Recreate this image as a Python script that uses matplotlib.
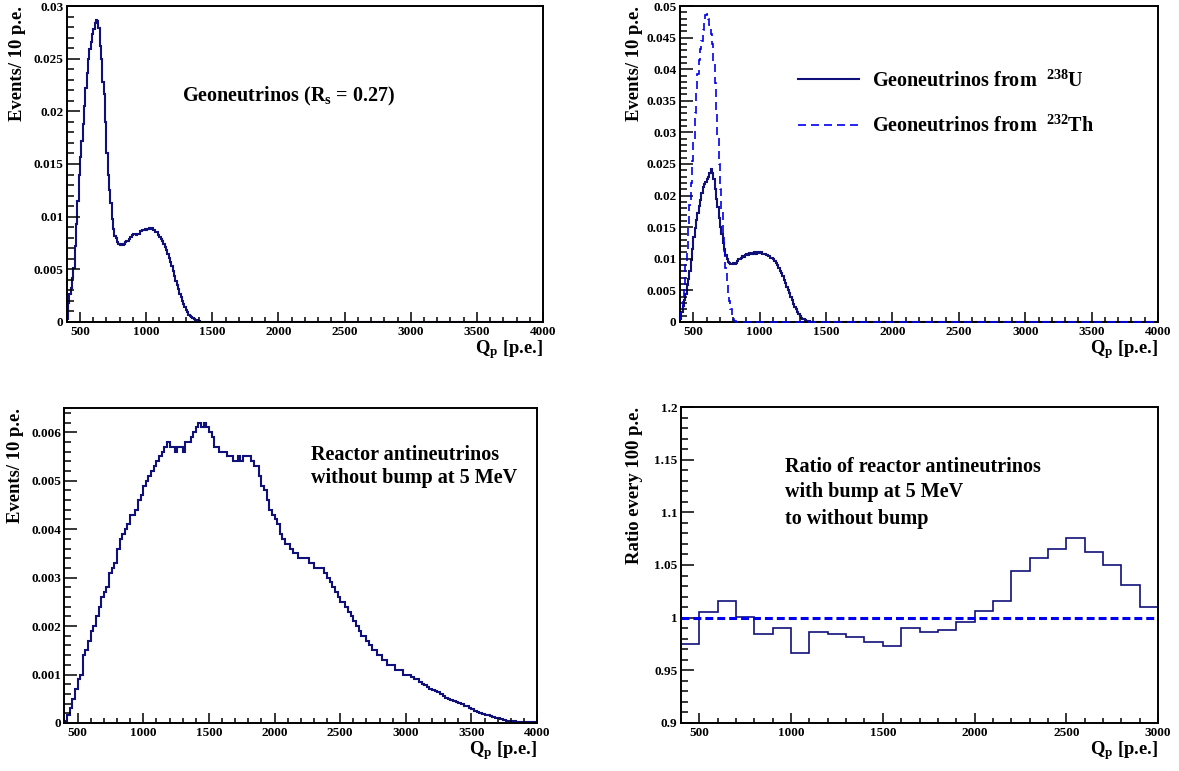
"""
Four ROOT-style panels: geoneutrino and reactor antineutrino Q_p spectra,
plus the ratio of reactor spectra with / without the 5 MeV bump.
"""

import numpy as np
import matplotlib
matplotlib.use("Agg")
import matplotlib.pyplot as plt
from matplotlib.ticker import MultipleLocator, FuncFormatter

Q_MIN = 400
Q_MAX = 4000
RATIO_Q_MAX = 3000

GEO_BIN = 10       # p.e. per bin, geoneutrino spectra
REACTOR_BIN = 20
RATIO_BIN = 100    # p.e. per bin, ratio plot

# Events / 10 p.e., bins from 400 p.e. upwards; everything above is empty
GEO_TOTAL = [
    0.0003, 0.0018, 0.0027, 0.0032, 0.0042, 0.0051, 0.0072, 0.0093, 0.0115, 0.0140,
    0.0157, 0.0172, 0.0188, 0.0205, 0.0222, 0.0236, 0.0250, 0.0259, 0.0266, 0.0273,
    0.0278, 0.0284, 0.0287, 0.0286, 0.0279, 0.0262, 0.0250, 0.0228, 0.0216, 0.0190,
    0.0160, 0.0140, 0.0125, 0.0113, 0.0098, 0.0088, 0.0082, 0.0080, 0.0076, 0.0074,
    0.0073, 0.0074, 0.0073, 0.0074, 0.0076, 0.0077, 0.0077, 0.0079, 0.0081, 0.0083,
    0.0084, 0.0084, 0.0083, 0.0084, 0.0084, 0.0086, 0.0086, 0.0087, 0.0087, 0.0088,
    0.0087, 0.0088, 0.0089, 0.0088, 0.0089, 0.0087, 0.0087, 0.0085, 0.0085, 0.0083,
    0.0081, 0.0079, 0.0077, 0.0074, 0.0071, 0.0068, 0.0065, 0.0061, 0.0057, 0.0053,
    0.0048, 0.0044, 0.0039, 0.0035, 0.0031, 0.0027, 0.0024, 0.0020, 0.0017, 0.0014,
    0.0011, 0.0009, 0.0007, 0.0006, 0.0005, 0.0004, 0.0003, 0.0002, 0.00015, 0.0001,
    0.00005,
]

GEO_U = [
    0.0004, 0.0015, 0.0026, 0.0035, 0.0045, 0.0058, 0.0068, 0.0080, 0.0098, 0.0115,
    0.0135, 0.0148, 0.0162, 0.0172, 0.0183, 0.0193, 0.0204, 0.0213, 0.0218, 0.0222,
    0.0226, 0.0230, 0.0235, 0.0242, 0.0236, 0.0226, 0.0210, 0.0195, 0.0182, 0.0165,
    0.0150, 0.0140, 0.0125, 0.0115, 0.0106, 0.0099, 0.0095, 0.0093, 0.0092, 0.0092,
    0.0093, 0.0092, 0.0094, 0.0096, 0.0099, 0.0100, 0.0102, 0.0104, 0.0103, 0.0106,
    0.0108, 0.0106, 0.0109, 0.0107, 0.0109, 0.0108, 0.0110, 0.0108, 0.0109, 0.0110,
    0.0109, 0.0110, 0.0108, 0.0107, 0.0107, 0.0106, 0.0104, 0.0104, 0.0102, 0.0101,
    0.0099, 0.0096, 0.0093, 0.0090, 0.0086, 0.0081, 0.0077, 0.0072, 0.0067, 0.0062,
    0.0056, 0.0051, 0.0046, 0.0040, 0.0034, 0.0029, 0.0024, 0.0020, 0.0016, 0.0012,
    0.0009, 0.0007, 0.0005, 0.0004, 0.0003, 0.0002, 0.00015, 0.0001, 0.00005, 0.00003,
]

GEO_TH = [
    0.0005, 0.0020, 0.0040, 0.0060, 0.0090, 0.0115, 0.0150, 0.0185, 0.0220, 0.0255,
    0.0290, 0.0330, 0.0362, 0.0392, 0.0415, 0.0432, 0.0445, 0.0462, 0.0478, 0.0485,
    0.0487, 0.0480, 0.0470, 0.0455, 0.0440, 0.0410, 0.0378, 0.0330, 0.0295, 0.0250,
    0.0210, 0.0175, 0.0140, 0.0112, 0.0085, 0.0065, 0.0045, 0.0033, 0.0020, 0.0010,
    0.0004, 0.0001,
]

# Events / 10 p.e., reactor antineutrinos without bump, 20 p.e. steps from 400
REACTOR = [
    0.00005, 0.00017, 0.0003, 0.0005, 0.0007, 0.0009, 0.0010, 0.0014, 0.0015, 0.0017,
    0.0019, 0.0020, 0.0022, 0.0024, 0.0026, 0.0027, 0.0028, 0.0031, 0.0032, 0.0033,
    0.0036, 0.0038, 0.0039, 0.0040, 0.0041, 0.0043, 0.0043, 0.0044, 0.0046, 0.0047,
    0.0049, 0.0050, 0.0051, 0.0052, 0.0053, 0.0054, 0.0055, 0.0056, 0.0057, 0.0058,
    0.0057, 0.0057, 0.0056, 0.0057, 0.0057, 0.0056, 0.0058, 0.0058, 0.0059, 0.0060,
    0.0061, 0.0062, 0.0061, 0.0062, 0.0061, 0.0060, 0.0059, 0.0057, 0.0057, 0.0056,
    0.0056, 0.0056, 0.0055, 0.0055, 0.0054, 0.0054, 0.0055, 0.0054, 0.0055, 0.0055,
    0.0055, 0.0054, 0.0053, 0.0053, 0.0051, 0.0049, 0.0048, 0.0046, 0.0044, 0.0043,
    0.0042, 0.0041, 0.0039, 0.0038, 0.0037, 0.0037, 0.0036, 0.0035, 0.0035, 0.0034,
    0.0034, 0.0034, 0.0034, 0.0033, 0.0033, 0.0032, 0.0032, 0.0032, 0.0032, 0.0031,
    0.0030, 0.0029, 0.0028, 0.0027, 0.0026, 0.0025, 0.0025, 0.0024, 0.0023, 0.0022,
    0.0021, 0.0020, 0.0019, 0.0018, 0.0018, 0.0017, 0.0016, 0.0015, 0.0015, 0.0014,
    0.0014, 0.0013, 0.0013, 0.0012, 0.0012, 0.0012, 0.0011, 0.0011, 0.0011, 0.0010,
    0.0010, 0.0010, 0.00095, 0.0009, 0.0009, 0.00085, 0.0008, 0.00078, 0.00075, 0.0007,
    0.00068, 0.00066, 0.00064, 0.0006, 0.00056, 0.00052, 0.0005, 0.00048, 0.00046, 0.00044,
    0.00042, 0.00039, 0.00036, 0.00034, 0.00031, 0.00028, 0.00025, 0.00023, 0.00021, 0.00019,
    0.00017, 0.00016, 0.00014, 0.00012, 0.00011, 0.0001, 0.00008, 0.00007, 0.00005, 0.00005,
    0.00004, 0.00004, 0.00003, 0.00003, 0.00002, 0.00002, 0.00002, 0.00001, 0.00001, 0.00001,
]

# ratio with bump / without bump, 100 p.e. bins from 400 to 3000
RATIO = [
    0.975, 1.005, 1.016, 1.001, 0.984, 0.990, 0.966, 0.986, 0.984, 0.982,
    0.977, 0.973, 0.990, 0.986, 0.988, 0.996, 1.006, 1.016, 1.044, 1.057,
    1.065, 1.076, 1.062, 1.050, 1.031, 1.010,
]
RATIO_REF = 1.0

NAVY = "#10107a"
BLUE = "#0000f0"


def fmt_g(v, pos):
    return "%g" % v


def pad_zeros(vals, nbins):
    # bins above the listed ones are empty
    return np.concatenate([np.asarray(vals, float), np.zeros(nbins - len(vals))])


def style_axes(ax, xmax, ymax, ymajor, yminor):
    ax.set_xlim(Q_MIN, xmax)
    ax.set_ylim(0 if ymax < 1 else 0.9, ymax)
    ax.xaxis.set_major_locator(MultipleLocator(500))
    ax.xaxis.set_minor_locator(MultipleLocator(100))
    ax.yaxis.set_major_locator(MultipleLocator(ymajor))
    ax.yaxis.set_minor_locator(MultipleLocator(yminor))
    ax.xaxis.set_major_formatter(FuncFormatter(fmt_g))
    ax.yaxis.set_major_formatter(FuncFormatter(fmt_g))
    ax.tick_params(axis="both", which="both", direction="in", top=False,
                   right=False, width=1.1, labelsize=9.5)
    ax.tick_params(axis="y", which="major", length=9.5, pad=2.5)
    ax.tick_params(axis="y", which="minor", length=5)
    ax.tick_params(axis="x", which="major", length=7.5, pad=3)
    ax.tick_params(axis="x", which="minor", length=3.8)
    for sp in ax.spines.values():
        sp.set_linewidth(1.4)


def axis_labels(ax, ylabel, ylabel_x):
    ax.text(ylabel_x, 1.0, ylabel, transform=ax.transAxes, rotation=90,
            ha="center", va="top", fontsize=13.4)
    ax.annotate(r"Q$_{\rm p}$ [p.e.]", xy=(1, 0), xycoords="axes fraction",
                xytext=(0, -31 * 0.72), textcoords="offset points",
                ha="right", va="baseline", fontsize=13.4)


def main():
    plt.rcParams["font.family"] = ["Liberation Serif", "DejaVu Serif"]
    plt.rcParams["font.weight"] = "bold"
    plt.rcParams["mathtext.fontset"] = "custom"
    plt.rcParams["mathtext.rm"] = "Liberation Serif:bold"
    plt.rcParams["mathtext.it"] = "Liberation Serif:bold"
    plt.rcParams["mathtext.bf"] = "Liberation Serif:bold"

    fig = plt.figure(figsize=(11.79, 7.71), dpi=100)
    ax1 = fig.add_axes([0.0566, 0.5824, 0.4040, 0.4098])
    ax2 = fig.add_axes([0.5768, 0.5824, 0.4054, 0.4098])
    ax3 = fig.add_axes([0.0547, 0.0623, 0.4008, 0.4085])
    ax4 = fig.add_axes([0.5776, 0.0623, 0.4046, 0.4098])

    n_geo = (Q_MAX - Q_MIN) // GEO_BIN
    geo_edges = Q_MIN + GEO_BIN * np.arange(n_geo + 1)

    # top left: total geoneutrino spectrum
    ax1.stairs(pad_zeros(GEO_TOTAL, n_geo), geo_edges, baseline=None,
               color=NAVY, lw=1.5)
    style_axes(ax1, Q_MAX, 0.03, 0.005, 0.001)
    axis_labels(ax1, "Events/ 10 p.e.", -0.104)
    ax1.text(0.242, 0.697, r"Geoneutrinos (R$_{\rm s}$ = 0.27)",
             transform=ax1.transAxes, ha="left", va="baseline", fontsize=14.5)

    # top right: U and Th contributions
    ax2.stairs(pad_zeros(GEO_U, n_geo), geo_edges, baseline=None,
               color=NAVY, lw=1.5, label=r"Geoneutrinos from  $^{238}$U")
    ax2.stairs(pad_zeros(GEO_TH, n_geo), geo_edges, baseline=None,
               color=BLUE, lw=1.2, linestyle=(0, (4.8, 3.0)), zorder=3,
               clip_on=False, label=r"Geoneutrinos from  $^{232}$Th")
    style_axes(ax2, Q_MAX, 0.05, 0.005, 0.001)
    axis_labels(ax2, "Events/ 10 p.e.", -0.0948)
    ax2.legend(loc="upper left", bbox_to_anchor=(0.247, 0.797), frameon=False,
               fontsize=14.5, handlelength=3.0, handletextpad=0.65,
               labelspacing=1.2, borderpad=0, borderaxespad=0)

    # bottom left: reactor antineutrinos without bump
    n_reac = len(REACTOR)
    reac_edges = Q_MIN + REACTOR_BIN * np.arange(n_reac + 1)
    ax3.stairs(REACTOR, reac_edges, baseline=None, color=NAVY, lw=1.5)
    style_axes(ax3, Q_MAX, 0.0065, 0.001, 0.0002)
    axis_labels(ax3, "Events/ 10 p.e.", -0.1037)
    for text, y in zip(["Reactor antineutrinos", "without bump at 5 MeV"],
                       [0.835, 0.761]):
        ax3.text(0.5217, y, text, transform=ax3.transAxes, ha="left",
                 va="baseline", fontsize=14.5)

    # bottom right: ratio with bump / without bump
    ratio_edges = Q_MIN + RATIO_BIN * np.arange(len(RATIO) + 1)
    ax4.stairs(RATIO, ratio_edges, baseline=None, color=NAVY, lw=1.2)
    ax4.axhline(RATIO_REF, color=BLUE, lw=2.2, linestyle=(0, (2.6, 1.3)))
    style_axes(ax4, RATIO_Q_MAX, 1.2, 0.05, 0.01)
    axis_labels(ax4, "Ratio every 100 p.e.", -0.0975)
    lines = ["Ratio of reactor antineutrinos", "with bump at 5 MeV",
             "to without bump"]
    for text, y in zip(lines, [0.795, 0.714, 0.630]):
        ax4.text(0.218, y, text, transform=ax4.transAxes, ha="left",
                 va="baseline", fontsize=14.5)

    fig.savefig("out.png", dpi=100)


if __name__ == "__main__":
    main()
